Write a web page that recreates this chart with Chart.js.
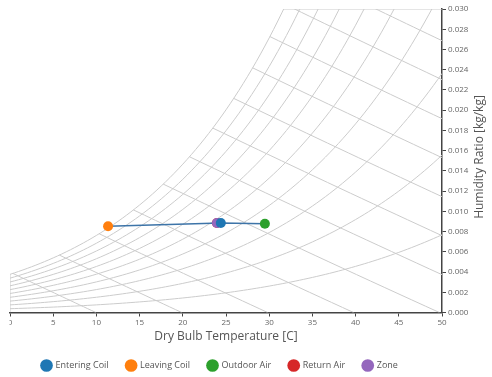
<!DOCTYPE html>
<html>
<head>
<meta charset="utf-8">
<script src="https://cdn.jsdelivr.net/npm/chart.js@4.4.0/dist/chart.umd.min.js"></script>
<style>
  body { margin: 0; background: #fff; }
  #chart { display: block; }
</style>
</head>
<body>
<canvas id="chart" width="492" height="377"></canvas>
<script>
// state points
const stateNames = ['Entering Coil', 'Leaving Coil', 'Outdoor Air', 'Return Air', 'Zone'];
const dryBulb = [24.4, 11.35, 29.5, 23.95, 23.95];
const humRatio = [0.00885, 0.00852, 0.00878, 0.00885, 0.00885];
const stateColors = ['#1f77b4', '#ff7f0e', '#2ca02c', '#d62728', '#9467bd'];
const drawOrder = [0, 3, 3, 2, 1]; // lower = on top
const processPath = [1, 0, 2]; // leaving -> entering -> outdoor

// psychrometric grid levels
const rhLevels = [0.1, 0.2, 0.3, 0.4, 0.5, 0.6, 0.7, 0.8, 0.9, 1.0];
const enthalpyLevels = [10, 20, 30, 40, 50, 60, 70, 80, 90, 100, 110, 120];
const xTicks = { min: 0, max: 50, step: 5 };
const yTicks = { min: 0, max: 0.030, step: 0.002 };

const P_ATM = 101.325;
const gridColor = '#cccccc';
const axisColor = '#444';
const font = 'Open Sans';

const pws = (t) => 0.61094 * Math.exp(17.625 * t / (t + 243.04));
const wFromRh = (t, rh) => 0.622 * rh * pws(t) / (P_ATM - rh * pws(t));
const wFromH = (t, h) => (h - 1.006 * t) / (2501 + 1.86 * t);

// where an enthalpy line meets saturation
function satTemp(h) {
  let lo = -20, hi = 60;
  for (let i = 0; i < 60; i++) {
    const mid = (lo + hi) / 2;
    if (wFromRh(mid, 1) > wFromH(mid, h)) hi = mid; else lo = mid;
  }
  return (lo + hi) / 2;
}

function gridSet(points) {
  return {
    data: points,
    showLine: true,
    borderColor: gridColor,
    borderWidth: 1,
    pointRadius: 0,
    tension: 0,
    order: 10
  };
}

const datasets = [];

stateNames.forEach((name, i) => {
  datasets.push({
    label: name,
    data: [{ x: dryBulb[i], y: humRatio[i] }],
    backgroundColor: stateColors[i],
    borderColor: stateColors[i],
    pointRadius: 5,
    pointBorderWidth: 0,
    pointStyle: 'circle',
    order: drawOrder[i]
  });
});

datasets.push({
  label: 'process',
  data: processPath.map(i => ({ x: dryBulb[i], y: humRatio[i] })),
  showLine: true,
  borderColor: '#3d74a8',
  borderWidth: 1.5,
  pointRadius: 0,
  order: 5
});

// relative humidity curves
rhLevels.forEach(rh => {
  const pts = [];
  for (let t = xTicks.min; t <= xTicks.max + 0.01; t += 0.5) {
    pts.push({ x: t, y: wFromRh(t, rh) });
  }
  datasets.push(gridSet(pts));
});

// enthalpy lines
enthalpyLevels.forEach(h => {
  const t0 = Math.max(satTemp(h), xTicks.min);
  const t1 = Math.min(h / 1.006, xTicks.max);
  const pts = [];
  for (let k = 0; k <= 20; k++) {
    const t = t0 + (t1 - t0) * k / 20;
    pts.push({ x: t, y: Math.max(wFromH(t, h), 0) });
  }
  datasets.push(gridSet(pts));
});

// chart boundary: top edge past saturation and left edge under it
let tTop = 0;
{
  let lo = 0, hi = 60;
  for (let i = 0; i < 60; i++) {
    const mid = (lo + hi) / 2;
    if (wFromRh(mid, 1) > yTicks.max) hi = mid; else lo = mid;
  }
  tTop = lo;
}
datasets.push(gridSet([{ x: tTop, y: yTicks.max }, { x: xTicks.max, y: yTicks.max }]));
datasets.push(gridSet([{ x: 0, y: 0 }, { x: 0, y: wFromRh(0, 1) }]));

const yTitle = {
  id: 'yTitle',
  afterDraw(chart) {
    const ctx = chart.ctx;
    ctx.save();
    // the original svg cuts the first x label at its left edge
    ctx.fillStyle = '#fff';
    ctx.fillRect(0, chart.chartArea.bottom + 3, chart.chartArea.left - 0.5, 12);
    ctx.translate(480, 157);
    ctx.rotate(-Math.PI / 2);
    ctx.font = '12px "' + font + '"';
    ctx.fillStyle = '#555';
    ctx.textAlign = 'center';
    ctx.textBaseline = 'middle';
    ctx.fillText('Humidity Ratio [kg/kg]', 0, 0);
    ctx.restore();
  }
};

const legendShift = {
  id: 'legendShift',
  afterLayout(chart) {
    const lg = chart.legend;
    const dx = 24 - lg.left;
    lg.left += dx;
    lg.right += dx;
    lg.top += 3;
    lg.bottom += 3;
  }
};

new Chart(document.getElementById('chart'), {
  type: 'scatter',
  data: { datasets: datasets },
  plugins: [yTitle, legendShift],
  options: {
    responsive: false,
    animation: false,
    layout: { padding: { top: 9, left: 10, right: 0, bottom: 0 } },
    plugins: {
      tooltip: { enabled: false },
      legend: {
        position: 'bottom',
        align: 'start',
        labels: {
          usePointStyle: true,
          pointStyle: 'circle',
          padding: 18,
          color: '#555',
          font: { family: font, size: 9 },
          filter: item => item.datasetIndex < stateNames.length,
          sort: (a, b) => a.datasetIndex - b.datasetIndex
        }
      }
    },
    scales: {
      x: {
        type: 'linear',
        min: xTicks.min,
        max: xTicks.max,
        afterFit: s => { s.height = 27.5; },
        ticks: {
          stepSize: xTicks.step,
          padding: 1,
          maxRotation: 0,
          color: '#666',
          font: { family: font, size: 8 }
        },
        grid: { display: true, drawOnChartArea: false, drawTicks: true, tickLength: 4, color: axisColor },
        border: { display: true, color: axisColor, width: 1.5 },
        title: {
          display: true,
          text: 'Dry Bulb Temperature [C]',
          color: '#555',
          font: { family: font, size: 12, lineHeight: 1 },
          padding: { top: 0, bottom: -3 }
        }
      },
      y: {
        type: 'linear',
        position: 'right',
        min: yTicks.min,
        max: yTicks.max,
        afterFit: s => { s.width = 50; },
        ticks: {
          stepSize: yTicks.step,
          padding: 2,
          color: '#666',
          font: { family: font, size: 8 },
          callback: v => v.toFixed(3)
        },
        grid: { display: true, drawOnChartArea: false, drawTicks: true, tickLength: 4, color: axisColor },
        border: { display: true, color: axisColor, width: 1.5 }
      }
    }
  }
});
</script>
</body>
</html>
